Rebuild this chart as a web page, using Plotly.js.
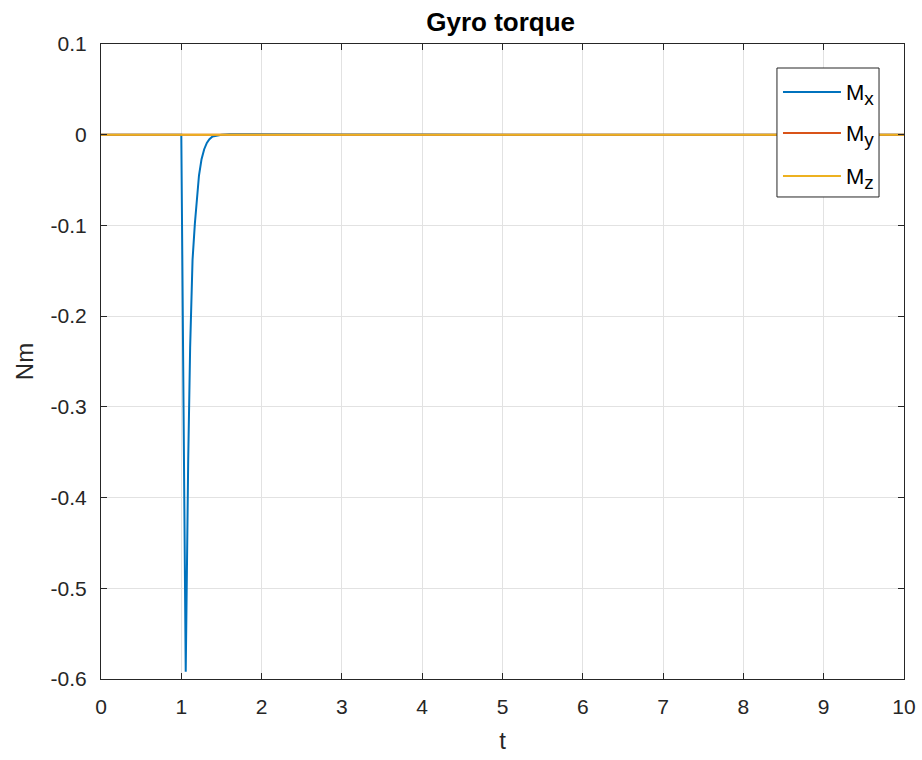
<!DOCTYPE html>
<html>
<head>
<meta charset="utf-8">
<script src="https://cdn.plot.ly/plotly-3.0.1.min.js"></script>
<style>
  html, body { margin: 0; padding: 0; background: #fff; }
  #chart { width: 922px; height: 760px; }
</style>
</head>
<body>
<div id="chart"></div>
<script>
// Time samples and gyro torque components (Nm)
const tMx = [0, 1.0, 1.055, 1.07, 1.086, 1.11, 1.14, 1.169, 1.194, 1.22, 1.252, 1.285, 1.318, 1.35, 1.389, 1.44, 1.5, 1.6, 2.0, 3.0, 4.0, 10];
const Mx  = [0, 0, -0.592, -0.46, -0.358, -0.235, -0.138, -0.098, -0.068, -0.045, -0.027, -0.016, -0.009, -0.005, -0.002, -0.0008, 0, 0.0005, 0.0006, 0.0003, 0.0001, 0];
const tMy = [0, 10];
const My  = [0, 0];
const tMz = [0, 10];
const Mz  = [0, 0];

const seriesNames  = ['M<sub><span style="font-size:19px">x</span></sub>',
                      'M<sub><span style="font-size:19px">y</span></sub>',
                      'M<sub><span style="font-size:19px">z</span></sub>'];
const seriesColors = ['#0072BD', '#D95319', '#EDB120'];

const xTicks = [0, 1, 2, 3, 4, 5, 6, 7, 8, 9, 10];
const xTickText = ['0', '1', '2', '3', '4', '5', '6', '7', '8', '9', '10'];
const yTicks = [0.1, 0, -0.1, -0.2, -0.3, -0.4, -0.5, -0.6];
const yTickText = ['0.1', '0', '-0.1', '-0.2', '-0.3', '-0.4', '-0.5', '-0.6'];

const FONT = 'Liberation Sans, Arial, Helvetica, sans-serif';
const AX = '#262626';
const LW = 2;

const series = [[tMx, Mx], [tMy, My], [tMz, Mz]];
const traces = series.map(([x, y], i) => ({
  x: x, y: y, name: seriesNames[i], mode: 'lines',
  line: { color: seriesColors[i], width: LW }, showlegend: false
}));

// Boxed legend in the upper right corner of the axes (paper coordinates)
const legBox = { x0: 0.8418, x1: 0.9689, y0: 0.7591, y1: 0.9622 };
const legRows = [0.9244, 0.8598, 0.7921];
const shapes = [{
  type: 'rect', xref: 'paper', yref: 'paper',
  x0: legBox.x0, x1: legBox.x1, y0: legBox.y0, y1: legBox.y1,
  line: { color: AX, width: 1 }, fillcolor: '#ffffff', layer: 'above'
}];
const annotations = [];
seriesNames.forEach((name, i) => {
  shapes.push({
    type: 'line', xref: 'paper', yref: 'paper',
    x0: 0.8493, x1: 0.9215, y0: legRows[i], y1: legRows[i],
    line: { color: seriesColors[i], width: LW }, layer: 'above'
  });
  annotations.push({
    xref: 'paper', yref: 'paper', x: 0.9255, y: legRows[i] - 0.004,
    xanchor: 'left', yanchor: 'middle', showarrow: false,
    text: name, font: { family: FONT, size: 22, color: '#000' }
  });
});

const axisCommon = {
  showgrid: true,
  gridcolor: '#e2e2e2',
  gridwidth: 1,
  zeroline: false,
  showline: true,
  linecolor: AX,
  linewidth: 1,
  mirror: 'ticks',
  ticks: 'inside',
  ticklen: 6,
  tickcolor: AX,
  tickfont: { family: FONT, size: 21, color: AX }
};

const layout = {
  width: 922,
  height: 760,
  margin: { l: 101, r: 18, t: 44, b: 81 },
  paper_bgcolor: '#ffffff',
  plot_bgcolor: '#ffffff',
  title: {
    text: '<b>Gyro torque</b>',
    font: { family: FONT, size: 26, color: '#000' },
    x: 0.543, xanchor: 'center',
    y: 0.971, yanchor: 'middle'
  },
  xaxis: Object.assign({}, axisCommon, {
    range: [0, 10],
    tickvals: xTicks,
    ticktext: xTickText,
    ticklabelstandoff: 9,
    title: { text: 't', font: { family: FONT, size: 24, color: AX }, standoff: 14 }
  }),
  yaxis: Object.assign({}, axisCommon, {
    range: [-0.6, 0.1],
    tickvals: yTicks,
    ticktext: yTickText,
    ticklabelstandoff: 9,
    title: { text: 'Nm', font: { family: FONT, size: 24, color: AX }, standoff: 10 }
  }),
  showlegend: false,
  shapes: shapes,
  annotations: annotations
};

Plotly.newPlot('chart', traces, layout, { displayModeBar: false, staticPlot: true });
</script>
</body>
</html>
